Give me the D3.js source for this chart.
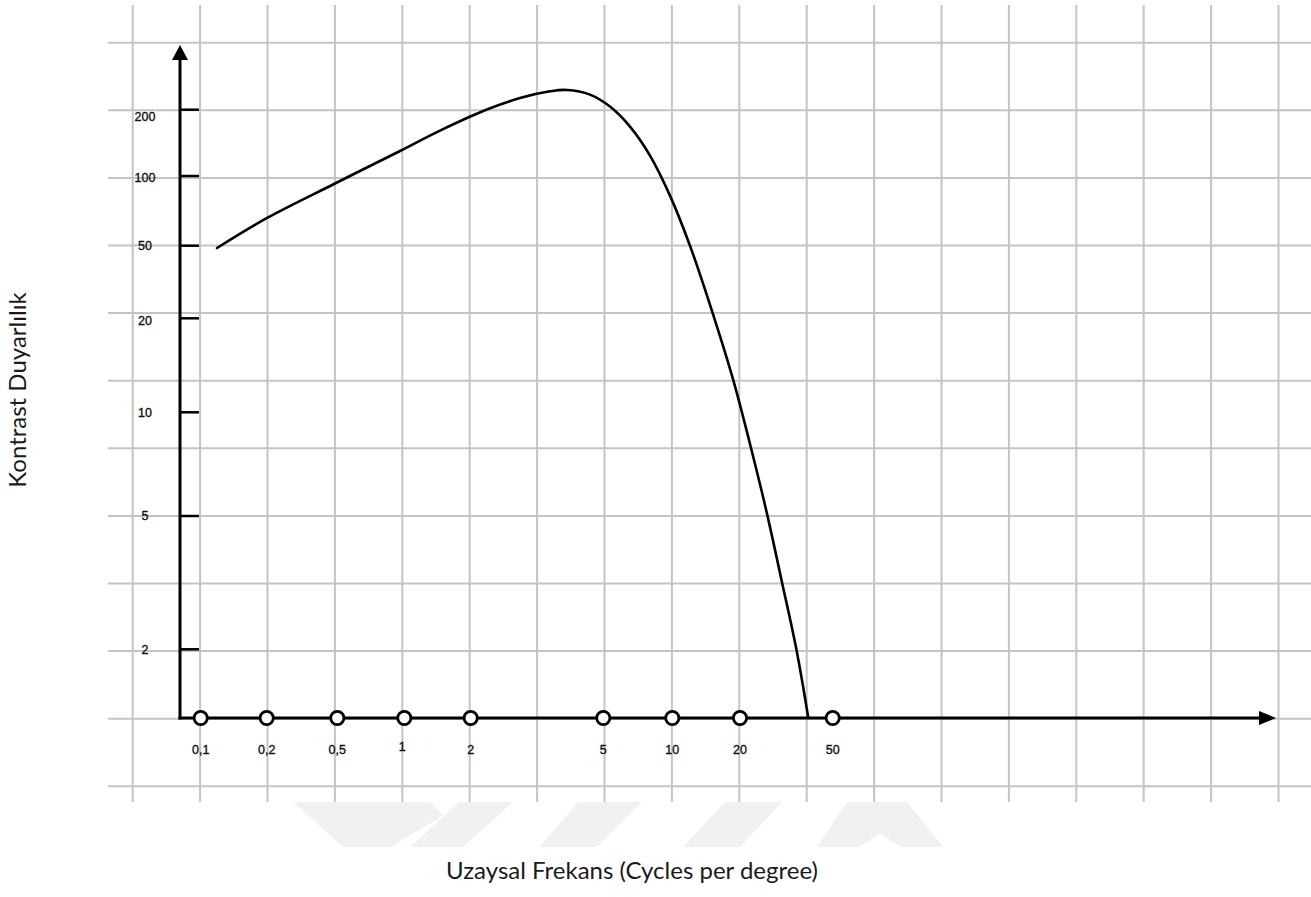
<!DOCTYPE html>
<html>
<head>
<meta charset="utf-8">
<script src="https://cdn.jsdelivr.net/npm/d3@7"></script>
<style>
  body { margin: 0; background: #fff; }
  svg { display: block; }
</style>
</head>
<body>
<div id="chart"></div>
<script>
// Tick values on each axis (hand-drawn log axes)
const freqTicks = [0.1, 0.2, 0.5, 1, 2, 5, 10, 20, 50];
const freqLabels = ["0,1", "0,2", "0,5", "1", "2", "5", "10", "20", "50"];
const sensTicks = [2, 5, 10, 20, 50, 100, 200];
const sensLabels = ["2", "5", "10", "20", "50", "100", "200"];

// Contrast sensitivity curve
const curveFreq = [0.1187, 0.201, 0.479, 0.957, 1.452, 2.208, 2.812, 3.46, 3.891, 4.561, 5.348, 6.538, 7.994, 9.771, 11.985, 14.97, 18.67, 22.08, 26.2, 30.2, 35.03, 39.29];
const curveSens = [48.57, 65.88, 92.35, 129.9, 160.7, 198.8, 226.0, 242.4, 245.8, 234.2, 206.6, 167.6, 123.8, 82.29, 50, 22.2, 12.68, 8.09, 5.03, 3.2, 1.966, 1];

const width = 1311, height = 897;
const svg = d3.select("#chart").append("svg")
  .attr("width", width)
  .attr("height", height);

svg.append("rect").attr("width", width).attr("height", height).attr("fill", "#fff");

// The axes are drawn by hand, so the scales are piecewise log
const x = d3.scaleLog()
  .domain(freqTicks)
  .range([200.7, 266.7, 337.3, 404.3, 470.7, 603.3, 672.3, 740, 832.7]);
const y = d3.scaleLog()
  .domain([1].concat(sensTicks))
  .range([718, 649.3, 516, 412.3, 318.3, 245.7, 176, 109.7]);

const x0 = 180, y0 = y(1);

// Graph paper background
const grid = svg.append("g").attr("stroke", "#c4c4c4").attr("stroke-width", 2);
d3.range(18).forEach(i => {
  const gx = 132.7 + i * 67.4;
  grid.append("line").attr("x1", gx).attr("x2", gx).attr("y1", 5).attr("y2", 802);
});
d3.range(12).forEach(i => {
  const gy = 42.7 + i * 67.6;
  grid.append("line").attr("x1", 108).attr("x2", 1311).attr("y1", gy).attr("y2", gy);
});

// Faint watermark band
const wm = svg.append("g").attr("fill", "#f1f1f1");
[
  [[293, 802], [430, 802], [444, 815], [402, 840], [392, 847], [343, 847]],
  [[410, 847], [463, 847], [513, 802], [459, 802]],
  [[578, 802], [642, 802], [597, 847], [540, 847]],
  [[725, 802], [782, 802], [740, 847], [683, 847]],
  [[847, 802], [907, 802], [943, 847], [902, 847], [880, 834], [858, 847], [817, 847]]
].forEach(p => wm.append("polygon").attr("points", p.map(d => d.join(",")).join(" ")));

// Y axis with arrow
svg.append("line")
  .attr("x1", x0).attr("x2", x0).attr("y1", y0 + 1.5).attr("y2", 58)
  .attr("stroke", "#000").attr("stroke-width", 3);
svg.append("path")
  .attr("d", `M${x0},45 L${x0 + 8},60 L${x0 - 8},60 Z`)
  .attr("fill", "#000");

// X axis with arrow
svg.append("line")
  .attr("x1", x0 - 1.5).attr("x2", 1262).attr("y1", y0).attr("y2", y0)
  .attr("stroke", "#000").attr("stroke-width", 3);
svg.append("path")
  .attr("d", `M1276,${y0} L1259,${y0 - 7} L1259,${y0 + 7} Z`)
  .attr("fill", "#000");

// Y ticks and labels
svg.selectAll(".ytick")
  .data(sensTicks)
  .enter().append("line")
  .attr("x1", x0).attr("x2", 199)
  .attr("y1", d => y(d)).attr("y2", d => y(d))
  .attr("stroke", "#000").attr("stroke-width", 2.5);

svg.selectAll(".ylab")
  .data(sensTicks)
  .enter().append("text")
  .attr("x", 145)
  .attr("y", d => y(d) + (d === 200 ? 7 : d === 20 ? 2.5 : d === 100 ? 2 : 0))
  .attr("dy", "0.35em")
  .attr("text-anchor", "middle")
  .attr("font-family", "Liberation Sans, Arial, sans-serif")
  .attr("font-size", "12.5px")
  .attr("fill", "#111")
  .attr("stroke", "#111")
  .attr("stroke-width", 0.35)
  .text((d, i) => sensLabels[i]);

// Curve
const line = d3.line()
  .x((d, i) => x(curveFreq[i]))
  .y((d, i) => y(curveSens[i]))
  .curve(d3.curveCatmullRom.alpha(0.5));

svg.append("path")
  .datum(curveFreq)
  .attr("fill", "none")
  .attr("stroke", "#000")
  .attr("stroke-width", 2.6)
  .attr("stroke-linecap", "round")
  .attr("d", line);

// X markers and labels
svg.selectAll(".xmark")
  .data(freqTicks)
  .enter().append("circle")
  .attr("cx", d => x(d))
  .attr("cy", y0)
  .attr("r", 6.6)
  .attr("fill", "#fff")
  .attr("stroke", "#000")
  .attr("stroke-width", 2.8);

svg.selectAll(".xlab")
  .data(freqTicks)
  .enter().append("text")
  .attr("x", d => x(d) - (d === 1 ? 2 : 0))
  .attr("y", d => d === 1 ? 747 : 749.5)
  .attr("dy", "0.35em")
  .attr("text-anchor", "middle")
  .attr("font-family", "Liberation Sans, Arial, sans-serif")
  .attr("font-size", "12.5px")
  .attr("fill", "#111")
  .attr("stroke", "#111")
  .attr("stroke-width", 0.35)
  .text((d, i) => freqLabels[i]);

// Axis titles
svg.append("text")
  .attr("x", 632)
  .attr("y", 879)
  .attr("text-anchor", "middle")
  .attr("font-family", "Lato, sans-serif")
  .attr("font-size", "24px")
  .attr("fill", "#1a1a1a")
  .text("Uzaysal Frekans (Cycles per degree)");

svg.append("text")
  .attr("transform", "rotate(-90)")
  .attr("x", -390)
  .attr("y", 25.5)
  .attr("text-anchor", "middle")
  .attr("font-family", "Lato, sans-serif")
  .attr("font-size", "24px")
  .attr("fill", "#1a1a1a")
  .text("Kontrast Duyarlılık");
</script>
</body>
</html>
